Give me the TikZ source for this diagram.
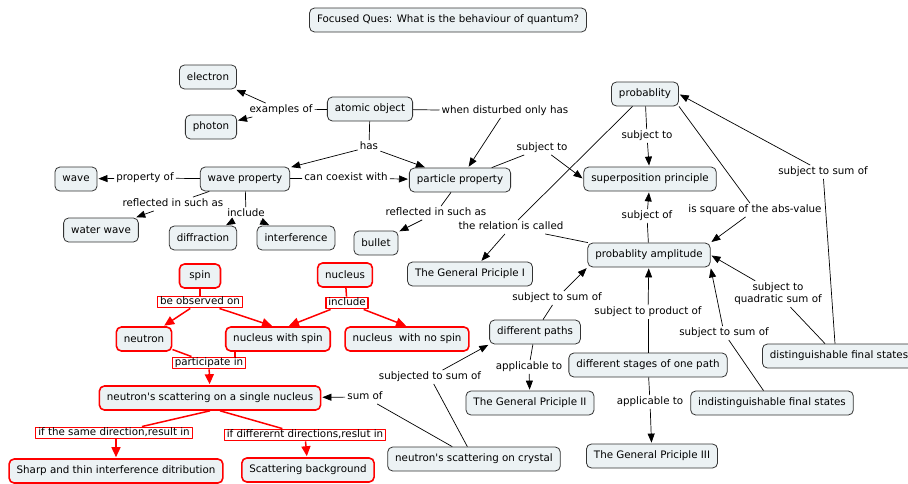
\documentclass[tikz,border=0pt]{standalone}
\usepackage{fontspec}
\setmainfont{DejaVu Sans}[Ligatures=TeXOff]
\usetikzlibrary{arrows.meta}
\definecolor{cfill}{RGB}{236,242,244}
\tikzset{
    concept/.style={draw=black!80,fill=cfill,rounded corners=5pt,line width=.8pt,inner xsep=7.5pt,minimum height=24pt,minimum width=41pt},
    redconcept/.style={concept,draw=red,line width=1.6pt},
    phrase/.style={inner sep=2pt,text height=7.5pt,text depth=2pt},
    redphrase/.style={phrase,draw=red,line width=1.4pt,inner xsep=2.5pt,inner ysep=1pt},
    link/.style={line width=.7pt},
    linkto/.style={link,-{Triangle[length=9pt,width=7pt]},shorten >=1pt},
    redlink/.style={draw=red,line width=1.5pt},
    redlinkto/.style={redlink,-{Triangle[length=10pt,width=9pt]},shorten >=1pt},
}
\begin{document}
\begin{tikzpicture}[x=1pt,y=-1pt,line join=round,font=\fontsize{10.3}{12}\selectfont]
    \useasboundingbox (0,0) rectangle (908,483);
    % concepts
    \node[concept] (focus) at (448,20) {Focused Ques: What is the behaviour of quantum?};
    \node[concept] (electron) at (208,77) {electron};
    \node[concept] (photon) at (211,127) {photon};
    \node[concept] (atomic) at (370,109) {atomic object};
    \node[concept] (wavep) at (245,179) {wave property};
    \node[concept] (wave) at (76,179) {wave};
    \node[concept] (water) at (101,230) {water wave};
    \node[concept] (diffr) at (203,238) {diffraction};
    \node[concept] (interf) at (296,238) {interference};
    \node[concept] (partp) at (460,180) {particle property};
    \node[concept] (bullet) at (376,243) {bullet};
    \node[concept] (prob) at (645,94) {probablity};
    \node[concept] (superp) at (650,179) {superposition principle};
    \node[concept] (ampl) at (649,255) {probablity amplitude};
    \node[concept] (gp1) at (470,274) {The General Priciple I};
    \node[concept] (paths) at (535,332) {different paths};
    \node[concept] (gp2) at (530,403) {The General Priciple II};
    \node[concept] (stages) at (648,365) {different stages of one path};
    \node[concept] (indist) at (772,403) {indistinguishable final states};
    \node[concept,anchor=west] (dist) at (762,356) {distinguishable final states};
    \node[concept] (gp3) at (652,456) {The General Priciple III};
    \node[concept] (crystal) at (474,459) {neutron's scattering on crystal};
    % neutron part
    \node[redconcept] (spin) at (200,276) {spin};
    \node[redconcept] (nucl) at (345,275) {nucleus};
    \node[redconcept] (neutron) at (144,339) {neutron};
    \node[redconcept] (nws) at (278,339) {nucleus with spin};
    \node[redconcept] (nnos) at (407,339) {nucleus\ \ with no spin};
    \node[redconcept] (single) at (210,398) {neutron's scattering on a single nucleus};
    \node[redconcept] (sharp) at (116,471) {Sharp and thin interference ditribution};
    \node[redconcept] (backgr) at (308,470) {Scattering background};
    % linking phrases
    \node[phrase] (exof) at (281,110) {examples of};
    \node[phrase] (wdis) at (505,111) {when disturbed only has};
    \node[phrase] (has) at (369,147) {has};
    \node[phrase] (propof) at (145,178) {property of};
    \node[phrase] (coex) at (346,178) {can coexist with};
    \node[phrase] (refw) at (173,204) {reflected in such as};
    \node[phrase] (incl) at (246,214) {include};
    \node[phrase] (refp) at (436,213) {reflected in such as};
    \node[phrase] (subp) at (542,148) {subject to};
    \node[phrase] (subpr) at (647,136) {subject to};
    \node[phrase] (relc) at (511,227) {the relation is called};
    \node[phrase] (subof) at (647,216) {subject of};
    \node[phrase] (sqabs) at (755,210) {is square of the abs-value};
    \node[phrase] (sumd) at (823,172) {subject to sum of};
    \node[phrase,align=center,text height=,text depth=] (quad) at (778,294) {subject to\\quadratic sum of};
    \node[phrase] (sump) at (557,298) {subject to sum of};
    \node[phrase] (prodof) at (648,312) {subject to product of};
    \node[phrase] (sumi) at (724,333) {subject to sum of};
    \node[phrase] (appl2) at (529,367) {applicable to};
    \node[phrase] (appl3) at (650,402) {applicable to};
    \node[phrase] (subjd) at (430,377) {subjected to sum of};
    \node[phrase] (sumof) at (365,397) {sum of};
    \node[redphrase] (beobs) at (200,302) {be observed on};
    \node[redphrase] (inclr) at (347,303) {include};
    \node[redphrase] (part) at (209,363) {participate in};
    \node[redphrase] (same) at (114,433) {if the same direction,result in};
    \node[redphrase] (diffd) at (305,435) {if differernt directions,reslut in};
    % links
    \draw[link] (atomic) -- (exof);
    \draw[linkto] (exof) -- (electron);
    \draw[linkto] (exof) -- (photon);
    \draw[link] (atomic) -- (wdis);
    \draw[linkto] (wdis) -- (partp);
    \draw[link] (atomic) -- (has);
    \draw[linkto] (has) -- (wavep);
    \draw[linkto] (has) -- (partp);
    \draw[link] (wavep) -- (propof);
    \draw[linkto] (propof) -- (wave);
    \draw[link] (wavep) -- (coex);
    \draw[linkto] (coex) -- (partp);
    \draw[link] (wavep) -- (refw);
    \draw[linkto] (refw) -- (water);
    \draw[link] (wavep) -- (incl);
    \draw[linkto] (incl) -- (diffr);
    \draw[linkto] (incl) -- (interf);
    \draw[link] (partp) -- (refp);
    \draw[linkto] (refp) -- (bullet);
    \draw[link] (partp) -- (subp);
    \draw[linkto] (subp) -- (superp.west);
    \draw[link] (prob) -- (subpr);
    \draw[linkto] (subpr) -- (superp);
    \draw[link] (prob) -- (relc);
    \draw[link] (ampl) -- (relc);
    \draw[linkto] (relc) -- (gp1);
    \draw[link] (ampl) -- (subof);
    \draw[linkto] (subof) -- (superp);
    \draw[link] (prob.south east) -- (sqabs);
    \draw[linkto] (sqabs) -- (ampl.north east);
    \draw[link] ([xshift=73pt]dist.north west) -- (sumd);
    \draw[linkto] (sumd) -- (prob.east);
    \draw[link] ([xshift=63pt]dist.north west) -- (quad);
    \draw[linkto] (quad) -- (ampl.east);
    \draw[link] (paths) -- (sump);
    \draw[linkto] (sump) -- (ampl.south west);
    \draw[link] (stages) -- (prodof);
    \draw[linkto] (prodof) -- (ampl);
    \draw[link] (indist) -- (sumi);
    \draw[linkto] (sumi) -- (ampl.south east);
    \draw[link] (paths) -- (appl2);
    \draw[linkto] (appl2) -- (gp2);
    \draw[link] (stages) -- (appl3);
    \draw[linkto] (appl3) -- (gp3);
    \draw[link] (crystal) -- (subjd);
    \draw[linkto] (subjd) -- (paths.south west);
    \draw[link] (crystal) -- (sumof);
    \draw[linkto] (sumof) -- (single);
    % red links
    \draw[redlink] (spin) -- (beobs);
    \draw[redlinkto] (beobs) -- (neutron);
    \draw[redlinkto] (beobs) -- ([xshift=-5pt]nws.north);
    \draw[redlink] (nucl) -- (inclr);
    \draw[redlinkto] (inclr) -- ([xshift=10pt]nws.north);
    \draw[redlinkto] (inclr) -- (nnos.north);
    \draw[redlink] (neutron) -- (part);
    \draw[redlink] ([xshift=-43pt]nws.south) -- ([xshift=-43pt]nws.south |- part.north);
    \draw[redlinkto] (part) -- (single);
    \draw[redlink] (single.south) -- (same);
    \draw[redlinkto] (same.south -| sharp.north) -- (sharp);
    \draw[redlink] ([xshift=10pt]single.south) -- (diffd);
    \draw[redlinkto] (diffd) -- (backgr);
\end{tikzpicture}
\end{document}
